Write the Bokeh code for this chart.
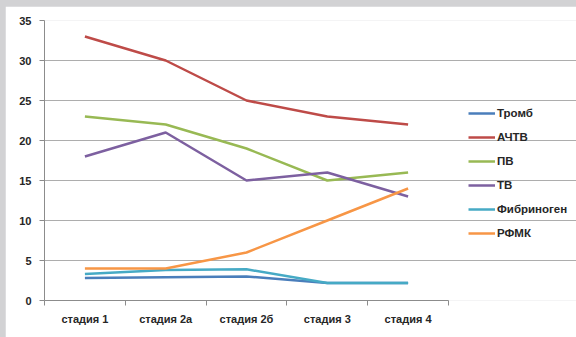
from bokeh.plotting import figure
from bokeh.models import FixedTicker, Legend, LegendItem, Range1d
from bokeh.layouts import column
from bokeh.embed import file_html
from bokeh.resources import INLINE

categories = ["стадия 1", "стадия 2а", "стадия 2б", "стадия 3", "стадия 4"]
series_names = ["Тромб", "АЧТВ", "ПВ", "ТВ", "Фибриноген", "РФМК"]
tromb = [2.8, 2.9, 3.0, 2.2, 2.2]
achtv = [33, 30, 25, 23, 22]
pv = [23, 22, 19, 15, 16]
tv = [18, 21, 15, 16, 13]
fibrinogen = [3.3, 3.8, 3.9, 2.2, 2.2]
rfmk = [4, 4, 6, 10, 14]
y_ticks = [0, 5, 10, 15, 20, 25, 30, 35]

colors = ["#4A7EBB", "#BE4B48", "#98B954", "#7D60A0", "#46AAC5", "#F79646"]
all_series = [tromb, achtv, pv, tv, fibrinogen, rfmk]

n = len(categories)
x = [i + 0.5 for i in range(n)]

# frame extends to the right edge so the legend can sit inside it;
# axis and grid are bounded to the category area
frame_w = 532
cat_w = 404
x_end = n * frame_w / cat_w

p = figure(width=571, height=331, output_backend="svg", toolbar_location=None,
           x_range=Range1d(0, x_end), y_range=Range1d(0, 35),
           min_border_left=39, min_border_right=0, min_border_top=14, min_border_bottom=37)
p.outline_line_color = None
p.background_fill_color = "white"
p.border_fill_color = "white"

renderers = []
for name, vals, c in zip(series_names, all_series, colors):
    r = p.line(x, vals, line_color=c, line_width=2.5)
    renderers.append((name, r))

# y axis
p.yaxis.ticker = FixedTicker(ticks=y_ticks)
p.yaxis.axis_line_color = "#8C8C8C"
p.yaxis.major_tick_line_color = "#8C8C8C"
p.yaxis.major_tick_out = 5
p.yaxis.major_tick_in = 0
p.yaxis.minor_tick_line_color = None
p.yaxis.major_label_text_font = "Liberation Sans"
p.yaxis.major_label_text_font_style = "bold"
p.yaxis.major_label_text_font_size = "11px"
p.yaxis.major_label_text_color = "#262626"
p.yaxis.major_label_standoff = 8

# x axis
p.xaxis.bounds = (0, n)
p.xaxis.ticker = FixedTicker(ticks=x, minor_ticks=list(range(n + 1)))
p.xaxis.major_label_overrides = {v: c for v, c in zip(x, categories)}
p.xaxis.axis_line_color = "#8C8C8C"
p.xaxis.major_tick_line_color = None
p.xaxis.minor_tick_line_color = "#8C8C8C"
p.xaxis.minor_tick_out = 5
p.xaxis.minor_tick_in = 0
p.xaxis.major_label_text_font = "Liberation Sans"
p.xaxis.major_label_text_font_style = "bold"
p.xaxis.major_label_text_font_size = "11px"
p.xaxis.major_label_text_color = "#262626"
p.xaxis.major_label_standoff = 6

p.xgrid.grid_line_color = None
p.ygrid.ticker = FixedTicker(ticks=y_ticks)
p.ygrid.bounds = (0, n)
p.ygrid.grid_line_color = "#ADADAD"
p.ygrid.grid_line_width = 1.2

legend = Legend(items=[LegendItem(label=nm, renderers=[r]) for nm, r in renderers],
                location=(424, 57), padding=0, margin=0, spacing=4,
                glyph_width=27, glyph_height=20, label_standoff=2,
                border_line_color=None, background_fill_alpha=0,
                label_text_font="Liberation Sans", label_text_font_style="bold",
                label_text_font_size="11.5px", label_text_color="#262626")
p.add_layout(legend, "center")

p.margin = (6, 0, 0, 5)
layout = column(p, styles={"background-color": "#D2D2D4"}, width=576, height=337)

open("out.html", "w").write(file_html(layout, INLINE))
